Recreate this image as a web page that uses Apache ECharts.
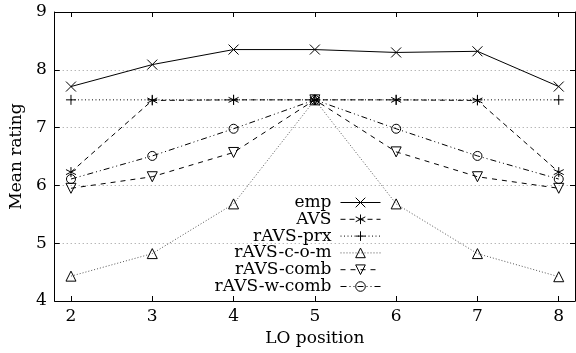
<!DOCTYPE html>
<html><head><meta charset="utf-8">
<script src="https://cdn.jsdelivr.net/npm/echarts@6/dist/echarts.min.js"></script>
<style>html,body{margin:0;padding:0;background:#fff}#c{width:576px;height:353px}</style>
</head><body><div id="c"></div>
<script>
const positions = [2, 3, 4, 5, 6, 7, 8];
const yTicks = [4, 5, 6, 7, 8, 9];
const seriesNames = ['emp', 'AVS', 'rAVS-prx', 'rAVS-c-o-m', 'rAVS-comb', 'rAVS-w-comb'];
const emp      = [7.71, 8.09, 8.35, 8.35, 8.30, 8.32, 7.71];
const avs      = [6.23, 7.47, 7.48, 7.48, 7.48, 7.47, 6.23];
const ravsPrx  = [7.48, 7.48, 7.48, 7.48, 7.48, 7.48, 7.48];
const ravsCom  = [4.43, 4.82, 5.68, 7.48, 5.68, 4.82, 4.42];
const ravsComb = [5.95, 6.15, 6.57, 7.48, 6.58, 6.15, 5.95];
const ravsWComb= [6.11, 6.51, 6.98, 7.48, 6.98, 6.51, 6.11];

const FONT = 'DejaVu Serif';
const FS = 17;
const sym = {
  cross: 'path://M0,0L10,10M10,0L0,10',
  star: 'path://M5,0L5,10M0.67,2.5L9.33,7.5M0.67,7.5L9.33,2.5',
  plus: 'path://M5,0L5,10M0,5L10,5',
  tri: 'path://M5,0L10,8.66L0,8.66Z',
  triDown: 'path://M0,0L10,0L5,8.66Z',
  circle: 'circle'
};
const styles = [
  {data: emp, symbol: sym.cross, size: 10, dash: 'solid', color: '#000'},
  {data: avs, symbol: sym.star, size: 10, dash: [5, 4], color: '#000'},
  {data: ravsPrx, symbol: sym.plus, size: 10, dash: [1, 2.5], color: '#000'},
  {data: ravsCom, symbol: sym.tri, size: 10, dash: [1, 2], color: '#555'},
  {data: ravsComb, symbol: sym.triDown, size: 10, dash: [5, 5], color: '#000'},
  {data: ravsWComb, symbol: sym.circle, size: 9, dash: [6, 3, 1, 3, 1, 3], color: '#000'}
];

const series = styles.map((s, i) => ({
  name: seriesNames[i],
  type: 'line',
  data: positions.map((p, j) => [p, s.data[j]]),
  symbol: s.symbol,
  symbolSize: s.size,
  showAllSymbol: true,
  lineStyle: {color: s.color, width: 1, type: s.dash},
  itemStyle: {color: 'rgba(255,255,255,0)', borderColor: '#000', borderWidth: 1},
  emphasis: {disabled: true},
  animation: false,
  z: 3
}));

const legends = seriesNames.map((n, i) => ({
  data: [n],
  right: 195,
  top: 194 + i * 16.8,
  orient: 'vertical',
  align: 'right',
  padding: 0,
  itemWidth: 40,
  itemHeight: 12,
  selectedMode: false,
  lineStyle: {width: 1},
  itemStyle: {borderWidth: 1},
  textStyle: {fontFamily: FONT, fontSize: FS, color: '#000', padding: [0, 4, 0, 0]}
}));

const axLine = {show: true, lineStyle: {color: '#000', width: 1}};
const chart = echarts.init(document.getElementById('c'), null, {renderer: 'canvas'});
chart.setOption({
  backgroundColor: '#fff',
  animation: false,
  grid: {left: 52, right: 1, top: 12, bottom: 52, containLabel: false},
  legend: legends,
  xAxis: [{
    type: 'value', min: 1.8, max: 8.2, position: 'bottom',
    name: 'LO position', nameLocation: 'middle', nameGap: 29,
    nameTextStyle: {fontFamily: FONT, fontSize: FS, color: '#000'},
    axisLine: axLine,
    axisTick: {show: true, inside: true, length: 5, customValues: positions, lineStyle: {color: '#000'}},
    axisLabel: {fontFamily: FONT, fontSize: FS, color: '#000', margin: 7, customValues: positions},
    splitLine: {show: false}
  }, {
    type: 'value', min: 1.8, max: 8.2, position: 'top',
    axisLine: axLine,
    axisTick: {show: true, inside: true, length: 5, customValues: positions, lineStyle: {color: '#000'}},
    axisLabel: {show: false, customValues: positions},
    splitLine: {show: false}
  }],
  yAxis: [{
    type: 'value', min: 4, max: 9, interval: 1, position: 'left',
    name: 'Mean rating', nameLocation: 'middle', nameGap: 22, nameRotate: 90,
    nameTextStyle: {fontFamily: FONT, fontSize: FS, color: '#000'},
    axisLine: axLine,
    axisTick: {show: true, inside: true, length: 5, lineStyle: {color: '#000'}},
    axisLabel: {fontFamily: FONT, fontSize: FS, color: '#000', margin: 8},
    splitLine: {show: true, lineStyle: {color: '#999', width: 1, type: [1, 3]}}
  }, {
    type: 'value', min: 4, max: 9, interval: 1, position: 'right',
    axisLine: axLine,
    axisTick: {show: true, inside: true, length: 5, lineStyle: {color: '#000'}},
    axisLabel: {show: false},
    splitLine: {show: false}
  }],
  series: series
});
</script></body></html>
